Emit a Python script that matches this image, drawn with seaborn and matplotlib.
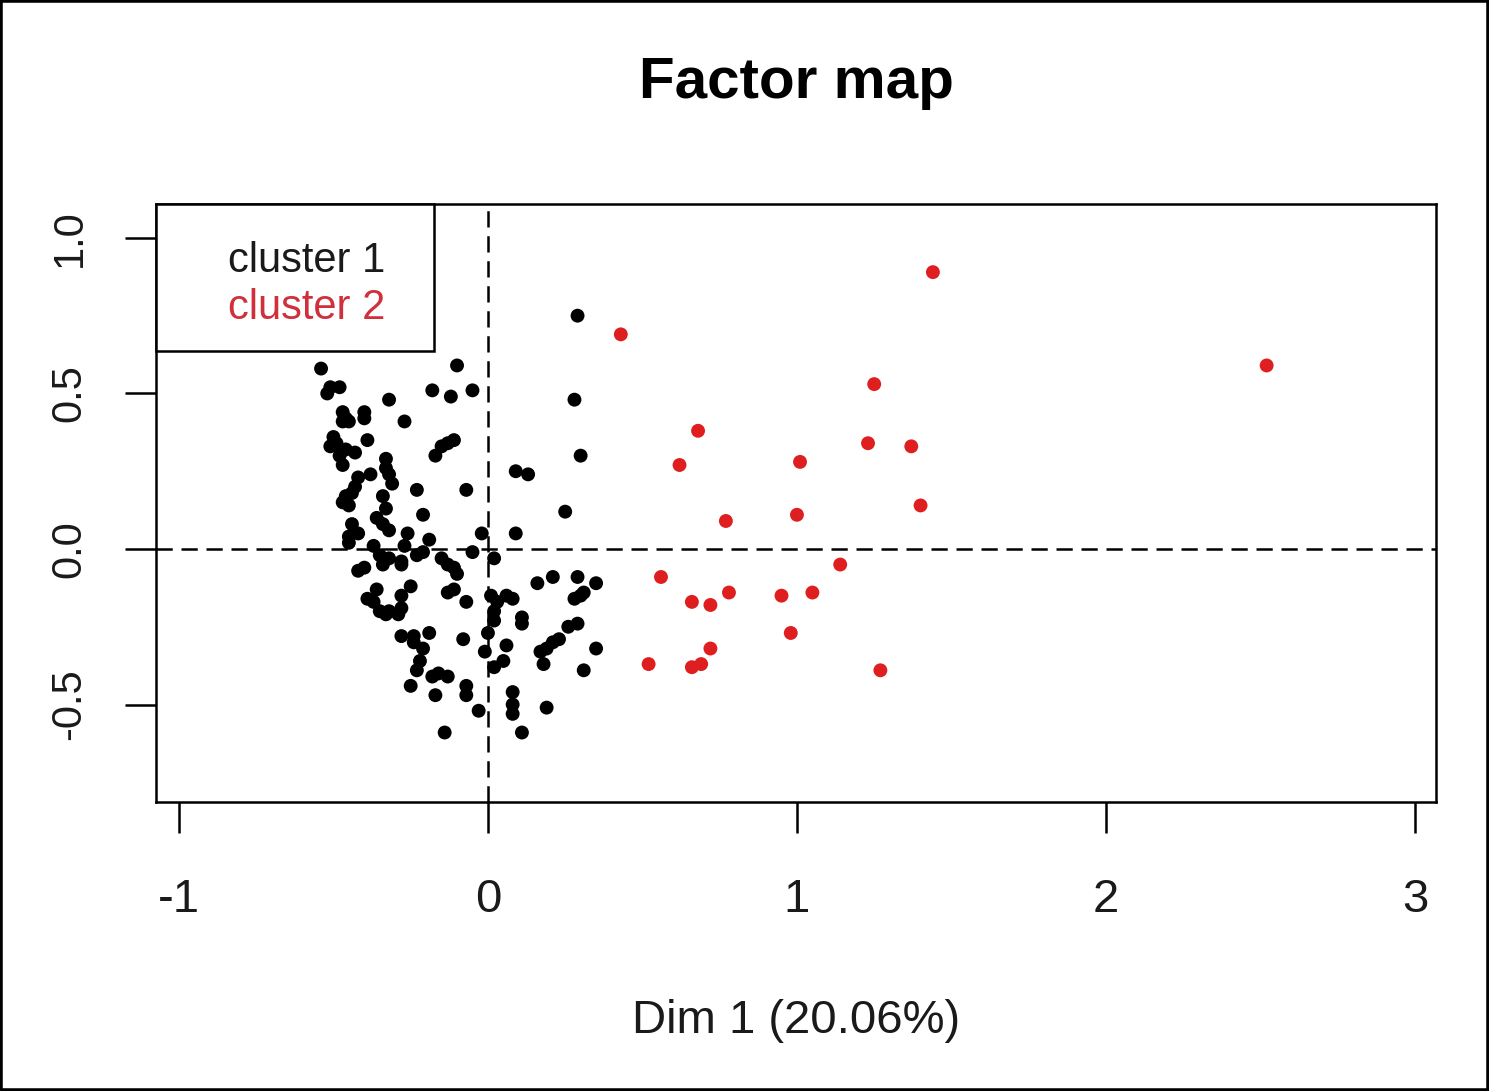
import matplotlib
matplotlib.use("Agg")
import matplotlib.pyplot as plt
from matplotlib.patches import Rectangle
import pandas as pd
import seaborn as sns

c1_dim1 = [-0.54, -0.51, -0.48, -0.52, -0.32, -0.18, -0.12, -0.05, -0.10, -0.47,
           -0.46, -0.47, -0.45, -0.40, -0.40, -0.27, -0.50, -0.51, -0.49, -0.39,
           -0.46, -0.43, -0.48, -0.47, -0.13, -0.11, -0.15, -0.17, -0.33, -0.33,
           -0.32, -0.31, -0.42, -0.38, -0.43, -0.44, -0.46, -0.47, -0.45, -0.34,
           -0.33, -0.36, -0.34, -0.32, -0.23, -0.07, -0.21, -0.44, -0.42, -0.45,
           -0.45, -0.26, -0.37, -0.19, -0.02, -0.27, -0.35, -0.34, -0.32, -0.28,
           -0.28, -0.23, -0.21, -0.40, -0.42, -0.15, -0.13, -0.11, -0.10, -0.05,
           0.02, -0.36, -0.39, -0.37, -0.35, -0.33, -0.32, -0.29, -0.28, -0.28,
           -0.25, -0.13, -0.11, -0.07, 0.01, 0.03, 0.02, 0.02, 0.00, -0.01,
           0.02, 0.05, 0.06, 0.06, 0.08, -0.28, -0.24, -0.24, -0.19, -0.08,
           -0.21, -0.22, -0.23, -0.18, -0.16, -0.13, -0.25, -0.17, -0.07, -0.07,
           -0.03, -0.14, 0.29, 0.28, 0.30, 0.09, 0.13, 0.25, 0.09, 0.16,
           0.21, 0.29, 0.35, 0.28, 0.30, 0.31, 0.11, 0.11, 0.26, 0.29,
           0.23, 0.21, 0.19, 0.17, 0.18, 0.35, 0.31, 0.08, 0.08, 0.08,
           0.19, 0.11]
c1_dim2 = [0.58, 0.52, 0.52, 0.50, 0.48, 0.51, 0.49, 0.51, 0.59, 0.44,
           0.42, 0.41, 0.41, 0.44, 0.42, 0.41, 0.36, 0.33, 0.34, 0.35,
           0.32, 0.31, 0.30, 0.27, 0.34, 0.35, 0.33, 0.30, 0.29, 0.26,
           0.24, 0.21, 0.23, 0.24, 0.20, 0.18, 0.17, 0.15, 0.14, 0.17,
           0.13, 0.10, 0.08, 0.06, 0.19, 0.19, 0.11, 0.08, 0.05, 0.04,
           0.02, 0.05, 0.01, 0.03, 0.05, 0.01, -0.02, -0.05, -0.03, -0.04,
           -0.05, -0.02, -0.01, -0.06, -0.07, -0.03, -0.05, -0.06, -0.08, -0.01,
           -0.03, -0.13, -0.16, -0.17, -0.20, -0.21, -0.20, -0.21, -0.19, -0.15,
           -0.12, -0.14, -0.13, -0.17, -0.15, -0.17, -0.20, -0.23, -0.27, -0.33,
           -0.38, -0.36, -0.31, -0.15, -0.16, -0.28, -0.28, -0.30, -0.27, -0.29,
           -0.32, -0.36, -0.39, -0.41, -0.40, -0.41, -0.44, -0.47, -0.44, -0.47,
           -0.52, -0.59, 0.75, 0.48, 0.30, 0.25, 0.24, 0.12, 0.05, -0.11,
           -0.09, -0.09, -0.11, -0.16, -0.15, -0.14, -0.22, -0.24, -0.25, -0.24,
           -0.29, -0.30, -0.32, -0.33, -0.37, -0.32, -0.39, -0.46, -0.50, -0.53,
           -0.51, -0.59]

c2_dim1 = [0.43, 1.44, 2.52, 1.25, 0.68, 1.23, 1.37, 0.62, 1.01, 1.40,
           0.77, 1.00, 1.14, 0.56, 0.78, 0.95, 1.05, 0.66, 0.72, 0.98,
           0.72, 0.52, 0.66, 0.69, 1.27]
c2_dim2 = [0.69, 0.89, 0.59, 0.53, 0.38, 0.34, 0.33, 0.27, 0.28, 0.14,
           0.09, 0.11, -0.05, -0.09, -0.14, -0.15, -0.14, -0.17, -0.18, -0.27,
           -0.32, -0.37, -0.38, -0.37, -0.39]

cluster_names = ["cluster 1", "cluster 2"]
cluster_colors = ["black", "#DF1F1F"]
legend_colors = ["#1A1A1A", "#D0303C"]

x_ticks = [-1, 0, 1, 2, 3]
y_ticks = [-0.5, 0.0, 0.5, 1.0]
y_tick_labels = ["-0.5", "0.0", "0.5", "1.0"]

df = pd.DataFrame({
    "Dim1": c1_dim1 + c2_dim1,
    "Dim2": c1_dim2 + c2_dim2,
    "cluster": [cluster_names[0]] * len(c1_dim1) + [cluster_names[1]] * len(c2_dim1),
})

sns.set_theme(style="white")
plt.rcParams["font.family"] = ["Liberation Sans", "DejaVu Sans"]

fig = plt.figure(figsize=(14.89, 10.91), dpi=100)
ax = fig.add_axes([0.1048, 0.265, 0.8596, 0.548])

ax.axhline(0, color="black", lw=1.8, linestyle=(0, (6.5, 3.5)), zorder=1)
ax.axvline(0, color="black", lw=1.8, linestyle=(0, (6.5, 3.5)), zorder=1)

sns.scatterplot(data=df, x="Dim1", y="Dim2", hue="cluster",
                palette=dict(zip(cluster_names, cluster_colors)),
                s=100, linewidth=0, legend=False, ax=ax, zorder=3)

ax.set_xlim(-1.074, 3.068)
ax.set_ylim(-0.813, 1.109)
ax.set_xticks(x_ticks)
ax.set_xticklabels([str(t) for t in x_ticks], fontsize=34)
ax.set_yticks(y_ticks)
ax.set_yticklabels(y_tick_labels, fontsize=30, rotation=90, va="center")
ax.tick_params(axis="x", direction="out", length=22, width=1.8, color="black",
               pad=33, labelcolor="#1A1A1A")
ax.tick_params(axis="y", direction="out", length=22, width=1.8, color="black",
               pad=26, labelcolor="#1A1A1A")
ax.tick_params(left=True, bottom=True)

for sp in ax.spines.values():
    sp.set_color("black")
    sp.set_linewidth(1.8)

ax.set_ylabel("")
ax.set_xlabel("Dim 1 (20.06%)", fontsize=34, color="#1A1A1A")
ax.xaxis.set_label_coords(0.5, -0.33)
ax.set_title("Factor map", fontsize=42, fontweight="bold", pad=76, color="black")

# légende façon R (texte coloré, sans symbole)
ax.add_patch(Rectangle((0, 1 - 147 / 598), 278 / 1280, 147 / 598,
                       transform=ax.transAxes, fill=True, facecolor="white",
                       edgecolor="black", lw=1.8, zorder=5, clip_on=False))
for i, (name, col) in enumerate(zip(cluster_names, legend_colors)):
    ax.text(72 / 1280, 1 - (57 + 47 * i) / 598, name, transform=ax.transAxes,
            fontsize=30, color=col, va="center", ha="left", zorder=6)

fig.patches.append(Rectangle((0, 0), 1, 1, transform=fig.transFigure,
                             fill=False, edgecolor="black", lw=4))

fig.savefig("out.png", dpi=100, facecolor="white")
